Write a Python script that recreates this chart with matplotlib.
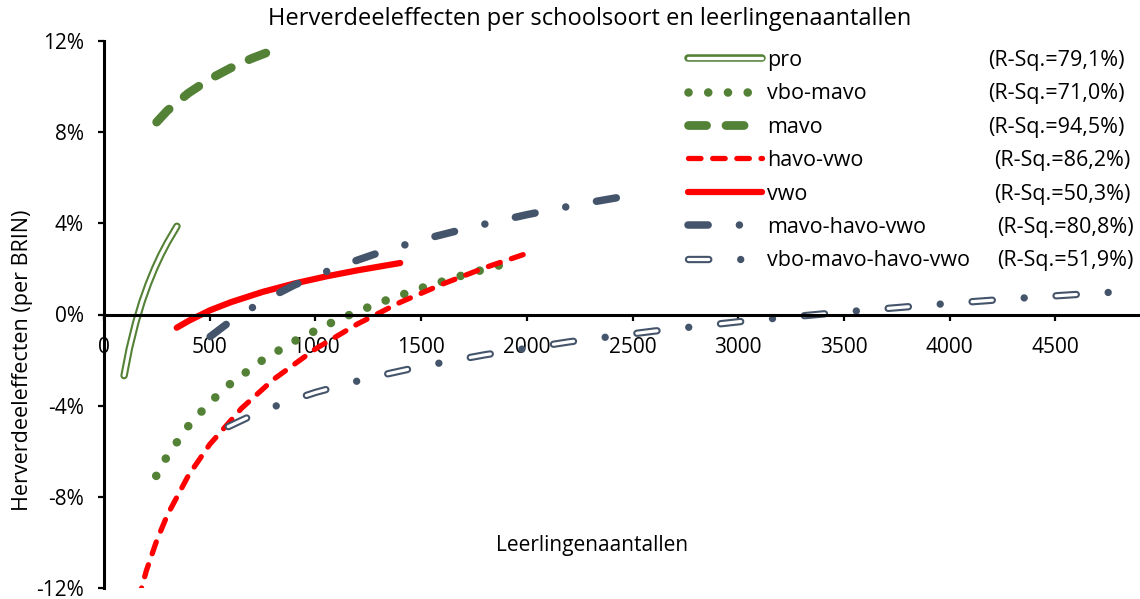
"""Herverdeeleffecten per schoolsoort en leerlingenaantallen"""

import matplotlib
matplotlib.use("Agg")
import matplotlib.pyplot as plt
from matplotlib.legend_handler import HandlerTuple

plt.rcParams['font.family'] = ['Open Sans', 'DejaVu Sans']
plt.rcParams['lines.scale_dashes'] = False  # dash patterns in points

# trendline points (x = leerlingen, y = %)
pro_x = [95, 120, 150, 180, 210, 240, 270, 300, 345]
pro_y = [-2.68, -1.49, -0.36, 0.57, 1.35, 2.03, 2.63, 3.16, 3.87]

vbo_mavo_x = [247, 300, 400, 500, 600, 750, 900, 1100, 1300, 1500, 1700, 1950]
vbo_mavo_y = [-7.08, -6.19, -4.88, -3.86, -3.02, -2.00, -1.17, -0.25, 0.51, 1.16, 1.73, 2.36]

mavo_x = [249, 300, 400, 500, 600, 700, 833]
mavo_y = [8.44, 8.95, 9.72, 10.33, 10.82, 11.24, 11.71]

havo_vwo_x = [160, 200, 250, 300, 400, 500, 650, 800, 1000, 1200, 1400, 1600, 1800, 2003]
havo_vwo_y = [-12.60, -11.25, -9.90, -8.79, -7.05, -5.70, -4.12, -2.86, -1.51, -0.41, 0.53, 1.33, 2.05, 2.69]

vwo_x = [344, 400, 500, 600, 750, 900, 1050, 1200, 1401]
vwo_y = [-0.58, -0.28, 0.18, 0.54, 0.99, 1.36, 1.67, 1.94, 2.26]

mhv_x = [502, 600, 750, 900, 1100, 1300, 1500, 1750, 2000, 2250, 2474]
mhv_y = [-0.97, -0.28, 0.58, 1.29, 2.07, 2.71, 3.27, 3.86, 4.38, 4.84, 5.20]

vmhv_x = [588, 700, 850, 1000, 1250, 1500, 1800, 2200, 2600, 3000, 3500, 4000, 4400, 4805]
vmhv_y = [-4.92, -4.43, -3.88, -3.42, -2.79, -2.28, -1.77, -1.20, -0.73, -0.32, 0.11, 0.49, 0.76, 1.00]

labels = ['pro', 'vbo-mavo', 'mavo', 'havo-vwo', 'vwo', 'mavo-havo-vwo', 'vbo-mavo-havo-vwo']
r_squared = ['79,1%', '71,0%', '94,5%', '86,2%', '50,3%', '80,8%', '51,9%']

x_ticks = [0, 500, 1000, 1500, 2000, 2500, 3000, 3500, 4000, 4500]
y_ticks = [-12, -8, -4, 0, 4, 8, 12]

green = '#538135'
red = '#ff0000'
slate = '#44546a'

fig = plt.figure(figsize=(11.4, 5.99), dpi=100)
ax = fig.add_axes([104 / 1140, 11 / 599, 1036 / 1140, 547 / 599])

# pro: hollow green line
p1, = ax.plot(pro_x, pro_y, color=green, lw=5.4, solid_capstyle='round')
p2, = ax.plot(pro_x, pro_y, color='white', lw=2.4, solid_capstyle='round')

# vbo-mavo: round dots
h_vm, = ax.plot(vbo_mavo_x, vbo_mavo_y, color=green, lw=6.2,
                linestyle=(0, (0.01, 14.2)), dash_capstyle='round')

# mavo: long dashes
h_m, = ax.plot(mavo_x, mavo_y, color=green, lw=6.3,
               linestyle=(0, (13, 14)), dash_capstyle='round')

# havo-vwo: short red dashes
h_hv, = ax.plot(havo_vwo_x, havo_vwo_y, color=red, lw=3.8,
                linestyle=(0, (9.0, 8.4)), dash_capstyle='round')

# vwo: solid red
h_v, = ax.plot(vwo_x, vwo_y, color=red, lw=4.5, solid_capstyle='round')

# mavo-havo-vwo: long dash + dot
h_mhv, = ax.plot(mhv_x, mhv_y, color=slate, lw=5.4,
                 linestyle=(0, (14.5, 22.5, 0.01, 22.5)), dash_capstyle='round')

# vbo-mavo-havo-vwo: hollow long dash + dot
q1, = ax.plot(vmhv_x, vmhv_y, color=slate, lw=5.3,
              linestyle=(0, (14.6, 23, 0.01, 23)), dash_capstyle='round')
q2, = ax.plot(vmhv_x, vmhv_y, color='white', lw=2.3,
              linestyle=(0, (14.6, 46.01)), dash_capstyle='round')

ax.set_xlim(0, 4900)
ax.set_ylim(-12, 12)
ax.set_xticks(x_ticks)
ax.set_xticklabels([str(t) for t in x_ticks])
ax.set_yticks(y_ticks)
ax.set_yticklabels(['%d%%' % t for t in y_ticks])

ax.spines['top'].set_visible(False)
ax.spines['right'].set_visible(False)
ax.spines['bottom'].set_position(('data', 0))
ax.spines['left'].set_linewidth(2.2)
ax.spines['bottom'].set_linewidth(2.2)
ax.tick_params(axis='x', direction='out', length=4.5, width=1.6, pad=12, labelsize=15)
ax.tick_params(axis='y', direction='out', length=4.5, width=1.6, pad=10, labelsize=15)

fig.text(590 / 1140, 1 - 19 / 599, 'Herverdeeleffecten per schoolsoort en leerlingenaantallen',
         fontsize=17, ha='center', va='center')
fig.text(592 / 1140, 1 - 545 / 599, 'Leerlingenaantallen', fontsize=15, ha='center', va='center')
fig.text(23 / 1140, 1 - 360 / 599, 'Herverdeeleffecten (per BRIN)', fontsize=15.5,
         ha='center', va='center', rotation=90)

handles = [(p1, p2), h_vm, h_m, h_hv, h_v, h_mhv, (q1, q2)]
leg = ax.legend(handles, labels, loc='upper left', bbox_to_anchor=(0.5535, 1.004),
                frameon=False, fontsize=15.5, handlelength=3.45, handletextpad=0.2,
                labelspacing=0.58, borderpad=0,
                handler_map={tuple: HandlerTuple(ndivide=1, pad=0)})

# R-squared values next to the legend rows
fig.canvas.draw()
inv = fig.transFigure.inverted()
rsq_x = [988, 988, 988, 994, 994, 997, 997]
for txt, val, px in zip(leg.get_texts(), r_squared, rsq_x):
    bb = txt.get_window_extent()
    yc = inv.transform((0, (bb.y0 + bb.y1) / 2))[1]
    fig.text(px / 1140, yc, '(R-Sq.=%s)' % val, fontsize=15.5, ha='left', va='center')

fig.savefig('out.png', dpi=100)
